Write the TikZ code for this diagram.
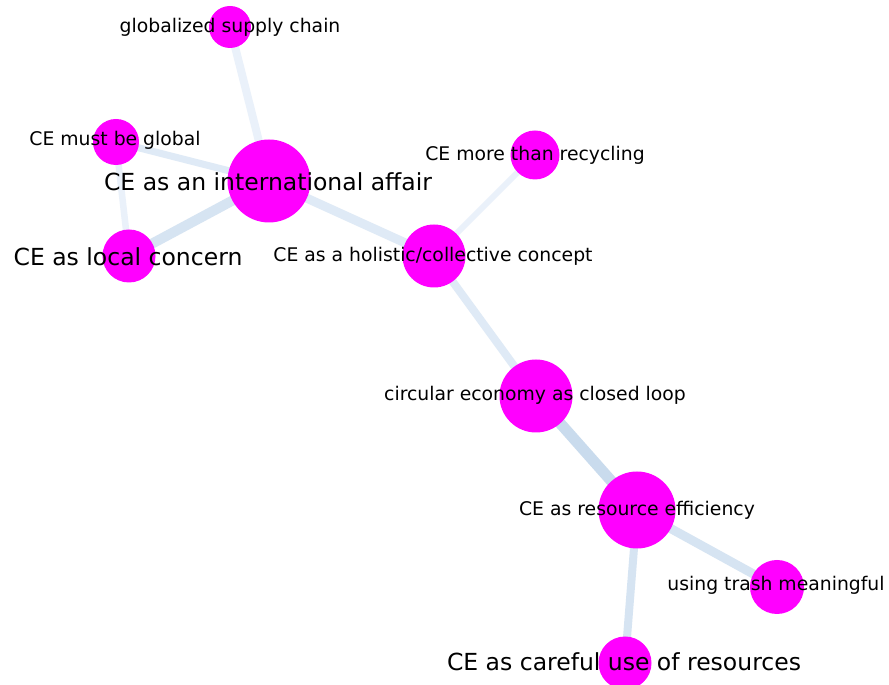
\documentclass[tikz,border=0pt]{standalone}
\usepackage{fontspec}
\setmainfont{DejaVu Sans}
\usetikzlibrary{backgrounds}
\definecolor{nodemag}{HTML}{FF00FF}
\definecolor{tieA}{HTML}{C9DBED}
\definecolor{tieB}{HTML}{D6E4F2}
\definecolor{tieC}{HTML}{DFEAF6}
\definecolor{tieD}{HTML}{EAF1FA}
\tikzset{
  concept/.style={circle, fill=nodemag, inner sep=0pt, minimum size=#1},
  small label/.style={inner sep=0pt, text=black, font=\fontsize{18.8}{21}\selectfont},
  large label/.style={inner sep=0pt, text=black, font=\fontsize{23.5}{26}\selectfont},
  tie/.style 2 args={draw=#2, line width=#1},
}
\begin{document}
\begin{tikzpicture}[x=1pt, y=1pt]
  \useasboundingbox (0,0) rectangle (889,685);
  \clip (0,0) rectangle (889,685);

  % concept circles
  \node[concept=42pt] (sup) at (230,658) {};
  \node[concept=46pt] (glob) at (116,543) {};
  \node[concept=83pt] (intl) at (269,504) {};
  \node[concept=53pt] (loc) at (129,429) {};
  \node[concept=49pt] (recyc) at (535,530) {};
  \node[concept=63pt] (holi) at (434,429) {};
  \node[concept=73pt] (loop) at (536,289) {};
  \node[concept=77pt] (eff) at (637,175) {};
  \node[concept=54pt] (trash) at (777,98) {};
  \node[concept=53pt] (care) at (625,22) {};

  % white page and links between concepts, behind the circles
  \begin{scope}[on background layer]
    \fill[white] (0,0) rectangle (889,685);
    \draw[tie={8pt}{tieD}] (sup.center) -- (intl.center);
    \draw[tie={7pt}{tieC}] (glob.center) -- (intl.center);
    \draw[tie={6.5pt}{tieD}] (glob.center) -- (loc.center);
    \draw[tie={10pt}{tieB}] (loc.center) -- (intl.center);
    \draw[tie={9pt}{tieC}] (intl.center) -- (holi.center);
    \draw[tie={6pt}{tieD}] (holi.center) -- (recyc.center);
    \draw[tie={8pt}{tieC}] (holi.center) -- (loop.center);
    \draw[tie={11pt}{tieA}] (loop.center) -- (eff.center);
    \draw[tie={9pt}{tieB}] (eff.center) -- (trash.center);
    \draw[tie={8pt}{tieB}] (eff.center) -- (care.center);
  \end{scope}

  % labels
  \node[small label] (sup-l) at (230,658) {globalized supply chain};
  \node[small label] (glob-l) at (115,545) {CE must be global};
  \node[large label] (intl-l) at (268,503) {CE as an international affair};
  \node[large label] (loc-l) at (128,428) {CE as local concern};
  \node[small label] (recyc-l) at (535,530) {CE more than recycling};
  \node[small label] (holi-l) at (433,429) {CE as a holistic/collective concept};
  \node[small label] (loop-l) at (535,290) {circular economy as closed loop};
  \node[small label] (eff-l) at (637,175) {CE as resource efficiency};
  \node[small label] (trash-l) at (776,100) {using trash meaningful};
  \node[large label] (care-l) at (624,23) {CE as careful use of resources};
\end{tikzpicture}
\end{document}
